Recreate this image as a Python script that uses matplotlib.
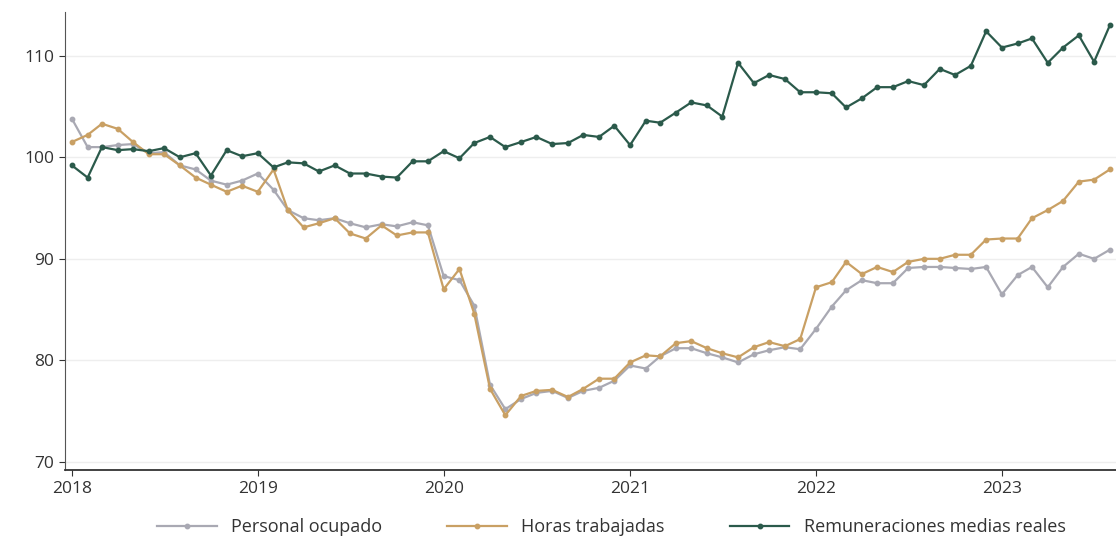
import numpy as np
import pandas as pd
import matplotlib
matplotlib.use("Agg")
import matplotlib.pyplot as plt
import matplotlib.dates as mdates

# monthly series, Jan 2018 - Aug 2023 (index 2018-01 = 100 approx)
months = pd.date_range("2018-01-01", "2023-08-01", freq="MS")

personal = [103.8, 101.0, 101.0, 101.2, 101.3, 100.4, 100.5, 99.2, 98.8, 97.7, 97.3, 97.7, 98.4,
            96.8, 94.8, 94.0, 93.8, 94.0, 93.5, 93.1, 93.4, 93.2, 93.6, 93.3,
            88.3, 87.9, 85.4, 77.6, 75.2, 76.2, 76.8, 77.0, 76.3, 77.0, 77.3, 78.0, 79.5,
            79.2, 80.4, 81.2, 81.2, 80.7, 80.3, 79.8, 80.6, 81.0, 81.3, 81.1,
            83.1, 85.3, 86.9, 87.9, 87.6, 87.6, 89.1, 89.2, 89.2, 89.1, 89.0, 89.2,
            86.5, 88.4, 89.2, 87.2, 89.2, 90.5, 90.0, 90.9]

horas = [101.5, 102.2, 103.3, 102.8, 101.5, 100.3, 100.3, 99.2, 98.0, 97.3, 96.6, 97.2, 96.6,
         98.8, 94.8, 93.1, 93.5, 94.0, 92.5, 92.0, 93.3, 92.3, 92.6, 92.6,
         87.0, 89.0, 84.6, 77.2, 74.6, 76.5, 77.0, 77.1, 76.4, 77.2, 78.2, 78.2, 79.8,
         80.5, 80.4, 81.7, 81.9, 81.2, 80.7, 80.3, 81.3, 81.8, 81.4, 82.1,
         87.2, 87.7, 89.7, 88.5, 89.2, 88.7, 89.7, 90.0, 90.0, 90.4, 90.4, 91.9,
         92.0, 92.0, 94.0, 94.8, 95.7, 97.6, 97.8, 98.8]

remuneraciones = [99.2, 98.0, 101.0, 100.7, 100.8, 100.6, 100.9, 100.0, 100.4, 98.2, 100.7, 100.1, 100.4,
                  99.0, 99.5, 99.4, 98.6, 99.2, 98.4, 98.4, 98.1, 98.0, 99.6, 99.6,
                  100.6, 99.9, 101.4, 102.0, 101.0, 101.5, 102.0, 101.3, 101.4, 102.2, 102.0, 103.1, 101.2,
                  103.6, 103.4, 104.4, 105.4, 105.1, 104.0, 109.3, 107.3, 108.1, 107.7, 106.4,
                  106.4, 106.3, 104.9, 105.8, 106.9, 106.9, 107.5, 107.1, 108.7, 108.1, 109.0, 112.4,
                  110.8, 111.2, 111.7, 109.3, 110.8, 112.0, 109.4, 113.0]

labels = ["Personal ocupado", "Horas trabajadas", "Remuneraciones medias reales"]
colors = ["#a9a9b3", "#c9a064", "#2b5a4b"]

plt.rcParams['font.family'] = ['Open Sans', 'DejaVu Sans']

fig = plt.figure(figsize=(11.16, 5.46), dpi=100)
ax = fig.add_axes([0.058, 0.139, 0.942, 0.839])

for y, lab, c in zip([personal, horas, remuneraciones], labels, colors):
    ax.plot(months, y, color=c, lw=1.6, marker="o", ms=3.2,
            mfc=c, mec=c, label=lab)

ax.set_ylim(69.2, 114.3)
ax.set_xlim(pd.Timestamp("2017-12-18"), pd.Timestamp("2023-08-13"))
ax.set_yticks([70, 80, 90, 100, 110])
ax.xaxis.set_major_locator(mdates.YearLocator())
ax.xaxis.set_major_formatter(mdates.DateFormatter("%Y"))

ax.grid(axis="y", color="#eeeeee", lw=1)
ax.set_axisbelow(True)
for s in ["top", "right"]:
    ax.spines[s].set_visible(False)
ax.spines["left"].set_color("#555555")
ax.spines["bottom"].set_color("#333333")
ax.spines["bottom"].set_linewidth(1.3)
ax.tick_params(axis="both", labelsize=12.5, colors="#333333", length=4)

ax.legend(loc="upper center", bbox_to_anchor=(0.52, -0.07), ncol=3, frameon=False,
          fontsize=13, handlelength=3.3, columnspacing=3.6, labelcolor="#333333")

fig.savefig("out.png", dpi=100)
